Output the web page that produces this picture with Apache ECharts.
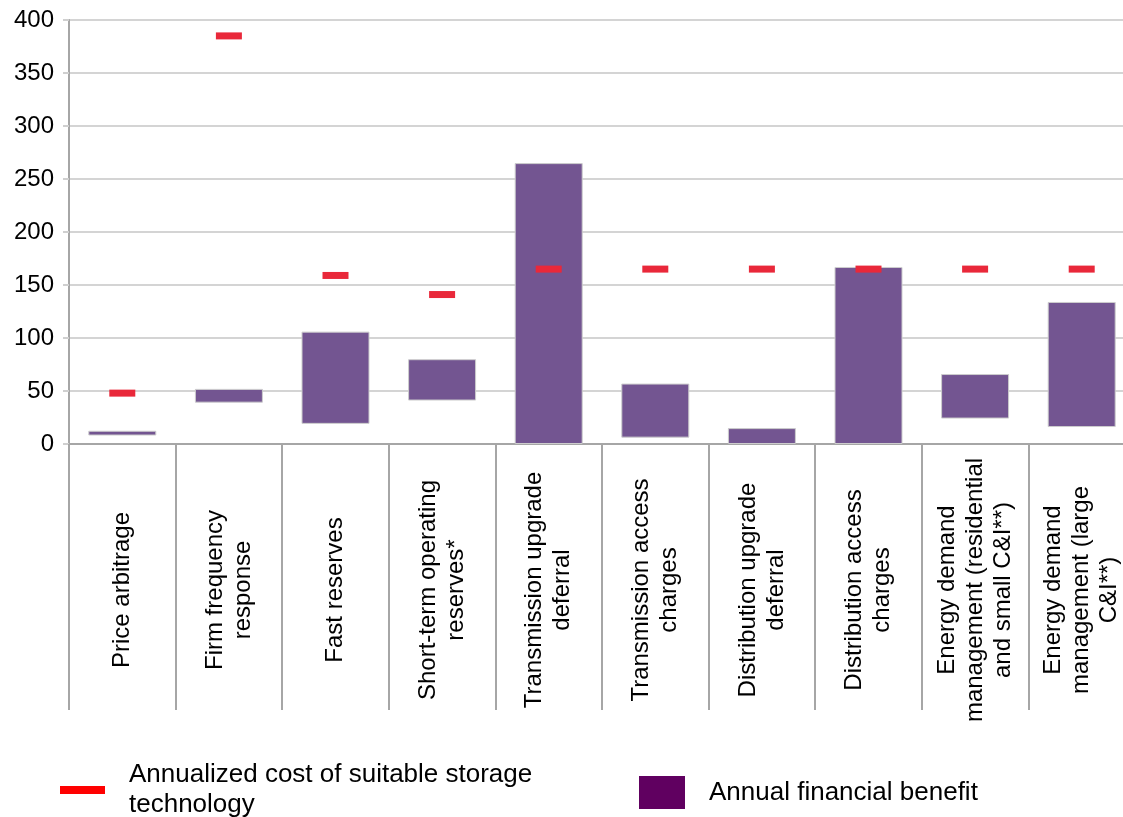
<!DOCTYPE html>
<html><head><meta charset="utf-8">
<script src="https://cdn.jsdelivr.net/npm/echarts@6/dist/echarts.min.js"></script>
<style>html,body{margin:0;padding:0;background:#fff;overflow:hidden}#chart{width:1135px;height:817px}</style>
</head><body><div id="chart"></div>
<script>
const categories = ['Price arbitrage','Firm frequency response','Fast reserves','Short-term operating reserves*','Transmission upgrade deferral','Transmission access charges','Distribution upgrade deferral','Distribution access charges','Energy demand management (residential and small C&I**)','Energy demand management (large C&I**)'];
const categoryLabelLines = ['Price arbitrage','Firm frequency\nresponse','Fast reserves','Short-term operating\nreserves*','Transmission upgrade\ndeferral','Transmission access\ncharges','Distribution upgrade\ndeferral','Distribution access\ncharges','Energy demand\nmanagement (residential\nand small C&I**)','Energy demand\nmanagement (large\nC&I**)'];
const benefitLow  = [8, 39, 19, 41, 0, 6, 0, 0, 24, 16];
const benefitHigh = [12.5, 52, 106, 80, 265, 57, 15, 167, 66, 134];
const storageCost = [48, 385, 159, 141, 165, 165, 165, 165, 165, 165];
const yMin = 0, yMax = 400, yInterval = 50;
const costName = 'Annualized cost of suitable storage technology';
const costLegendText = 'Annualized cost of suitable storage\ntechnology';
const benefitName = 'Annual financial benefit';

const benefitSpan = benefitHigh.map((h, i) => h - benefitLow[i]);
const FONT = 'Liberation Sans, Arial, sans-serif';

const chart = echarts.init(document.getElementById('chart'), null, {renderer: 'canvas'});
chart.setOption({
  animation: false,
  backgroundColor: '#ffffff',
  grid: {left: 69, top: 20, right: 0, bottom: 373, containLabel: false},
  legend: [
    {
      left: 55, top: 755, itemWidth: 45, itemHeight: 8,
      data: [{name: costName, icon: 'rect', itemStyle: {color: '#ff0000', borderWidth: 0}}],
      formatter: () => costLegendText,
      textStyle: {fontFamily: FONT, fontSize: 26, color: '#000', lineHeight: 30, padding: [0, 0, 0, 19]},
      selectedMode: false
    },
    {
      left: 634, top: 771, itemWidth: 46, itemHeight: 33,
      data: [{name: benefitName, icon: 'rect', itemStyle: {color: '#600060', borderWidth: 0}}],
      textStyle: {fontFamily: FONT, fontSize: 26, color: '#000', padding: [0, 0, 0, 19]},
      selectedMode: false
    }
  ],
  xAxis: {
    type: 'category',
    data: categories,
    boundaryGap: true,
    axisLine: {show: true, lineStyle: {color: '#a6a6a6', width: 2}},
    axisTick: {show: true, length: 266, alignWithLabel: false, lineStyle: {color: '#a6a6a6', width: 2}},
    axisLabel: {
      interval: 0, rotate: 90, align: 'center', verticalAlign: 'middle', margin: 146,
      fontFamily: FONT, fontSize: 24, color: '#000', lineHeight: 28,
      formatter: (v, i) => categoryLabelLines[i]
    },
    splitLine: {show: false}
  },
  yAxis: {
    type: 'value',
    min: yMin, max: yMax, interval: yInterval,
    axisLine: {show: true, lineStyle: {color: '#a6a6a6', width: 2}},
    axisTick: {show: true, length: 6, lineStyle: {color: '#cfcfcf', width: 2}},
    axisLabel: {fontFamily: FONT, fontSize: 24, color: '#000', margin: 15, padding: [5, 0, 0, 0]},
    splitLine: {show: true, lineStyle: {color: '#d4d4d4', width: 2}}
  },
  series: [
    {
      name: 'base', type: 'bar', stack: 'benefit', data: benefitLow, barWidth: 68,
      itemStyle: {color: 'transparent'}, silent: true, z: 1
    },
    {
      name: benefitName, type: 'bar', stack: 'benefit', data: benefitSpan, barWidth: 68,
      itemStyle: {color: '#735591', borderColor: '#cdcdcd', borderWidth: 1}, z: 2
    },
    {
      name: costName, type: 'scatter', data: storageCost,
      symbol: 'rect', symbolSize: [26, 7],
      itemStyle: {color: '#e9283a', opacity: 1}, z: 5
    }
  ]
});
</script></body></html>
